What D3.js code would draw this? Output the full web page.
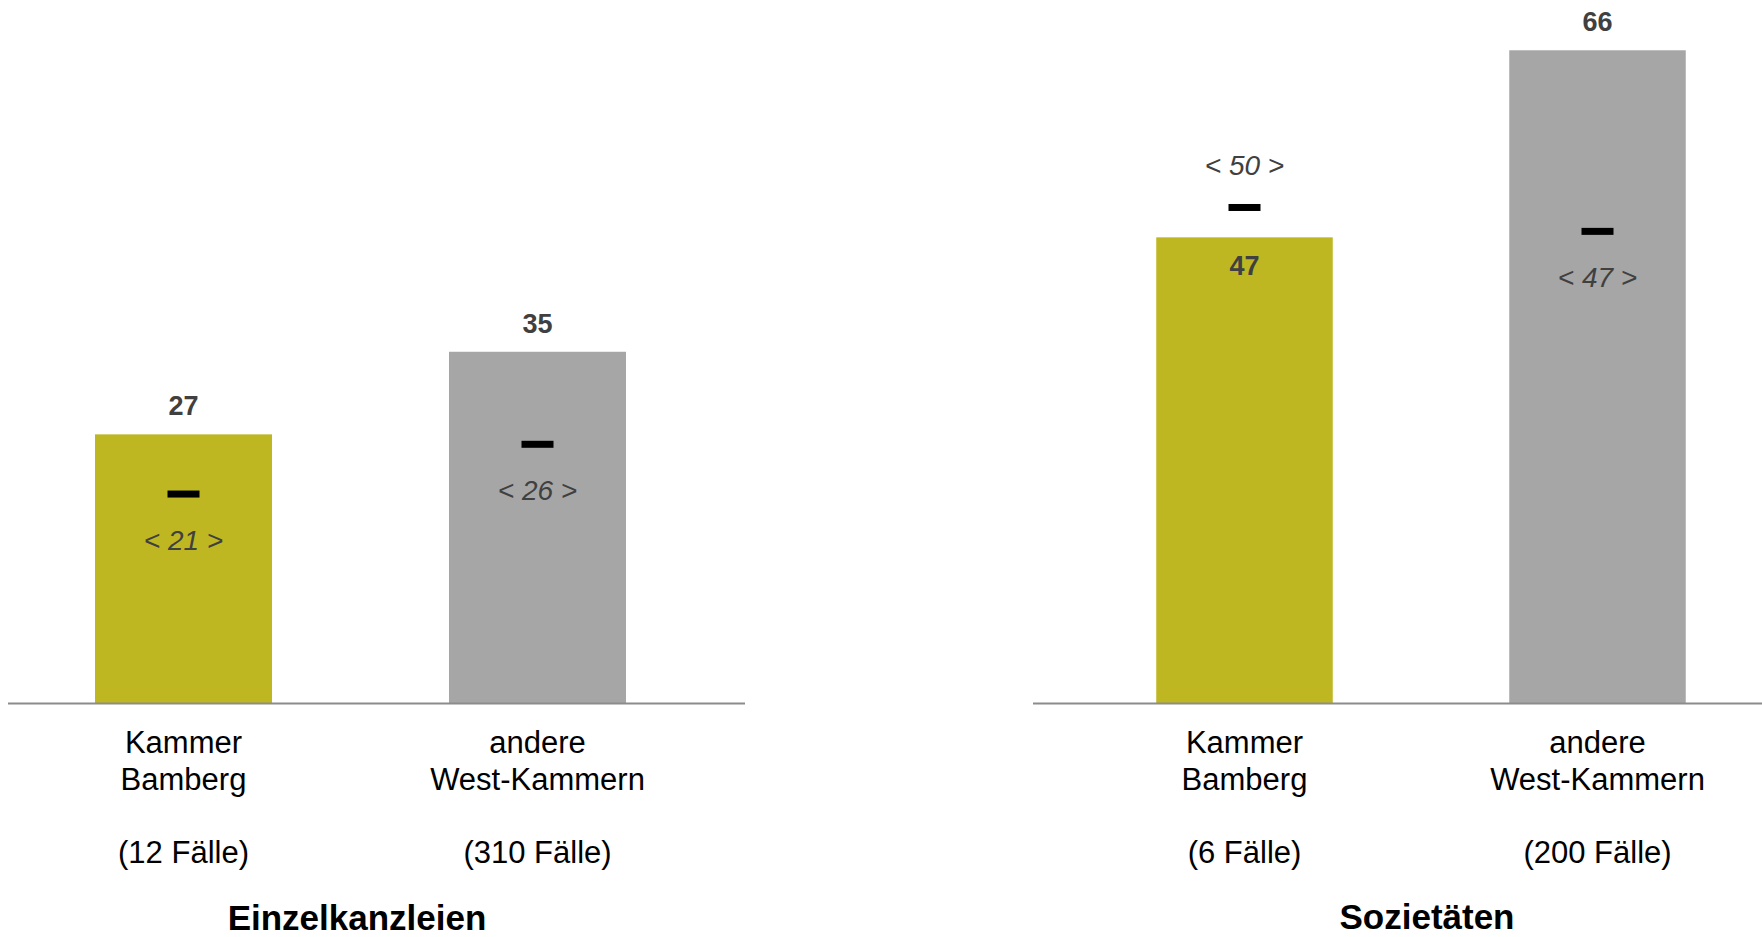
<!DOCTYPE html>
<html>
<head>
<meta charset="utf-8">
<script src="https://cdn.jsdelivr.net/npm/d3@7"></script>
<style>
  html, body { margin: 0; padding: 0; background: #fff; }
  svg { display: block; font-family: "Liberation Sans", Arial, sans-serif; }
</style>
</head>
<body>
<svg id="chart" width="1762" height="937"></svg>
<script>
// ---- data (labels show rounded values) ----
const panels = ["Einzelkanzleien", "Sozietäten"];
const categories = ["Kammer Bamberg", "andere West-Kammern"];
const categoryLines = [["Kammer", "Bamberg"], ["andere", "West-Kammern"]];
const cases = [["(12 Fälle)", "(310 Fälle)"], ["(6 Fälle)", "(200 Fälle)"]];
const barValues = [[27, 35.3], [46.8, 65.6]];
const meanValues = [[21, 26], [49.8, 47.4]];
const meanLabelAbove = [[false, false], [true, false]];
const valueLabelInside = [[false, false], [true, false]];
const colors = ["#BFB722", "#A6A6A6"];

// ---- layout ----
const svg = d3.select("#chart");
const baseline = 703;
const y = d3.scaleLinear().domain([0, 70]).range([baseline, baseline - 70 * 9.95]);

const panelLayout = [
  { range: [6.5, 714.5], axis: [8, 745], titleX: 357, titleY: 930 },
  { range: [1068, 1774], axis: [1033, 1762], titleX: 1427, titleY: 929 }
];

panels.forEach((pName, pi) => {
  const L = panelLayout[pi];
  const x = d3.scaleBand().domain(categories).range(L.range)
    .paddingInner(0.5).paddingOuter(0.25);
  const g = svg.append("g");

  const rows = categories.map((c, i) => ({
    cat: c, v: barValues[pi][i], m: meanValues[pi][i],
    above: meanLabelAbove[pi][i], inside: valueLabelInside[pi][i],
    lines: categoryLines[i], cases: cases[pi][i], color: colors[i]
  }));

  // bars
  g.selectAll("rect.bar").data(rows).join("rect")
    .attr("class", "bar")
    .attr("x", d => x(d.cat))
    .attr("width", x.bandwidth())
    .attr("y", d => y(d.v))
    .attr("height", d => y(0) - y(d.v))
    .attr("fill", d => d.color);

  // axis line
  g.append("line")
    .attr("x1", L.axis[0]).attr("x2", L.axis[1])
    .attr("y1", baseline + 0.5).attr("y2", baseline + 0.5)
    .attr("stroke", "#8C8C8C").attr("stroke-width", 2);

  // value labels
  g.selectAll("text.val").data(rows).join("text")
    .attr("class", "val")
    .attr("x", d => x(d.cat) + x.bandwidth() / 2)
    .attr("y", d => d.inside ? y(d.v) + 38 : y(d.v) - 19)
    .attr("text-anchor", "middle")
    .attr("font-size", 27).attr("font-weight", "bold")
    .attr("fill", "#404040")
    .text(d => Math.round(d.v));

  // mean markers
  g.selectAll("rect.mean").data(rows).join("rect")
    .attr("class", "mean")
    .attr("x", d => x(d.cat) + x.bandwidth() / 2 - 16)
    .attr("width", 32)
    .attr("y", d => y(d.m) - 3.5)
    .attr("height", 7)
    .attr("fill", "#000");

  // mean labels
  g.selectAll("text.mean").data(rows).join("text")
    .attr("class", "mean")
    .attr("x", d => x(d.cat) + x.bandwidth() / 2)
    .attr("y", d => d.above ? y(d.m) - 32 : y(d.m) + 56)
    .attr("text-anchor", "middle")
    .attr("font-size", 28).attr("font-style", "italic")
    .attr("fill", "#404040")
    .text(d => "< " + Math.round(d.m) + " >");

  // category labels
  rows.forEach(d => {
    const cx = x(d.cat) + x.bandwidth() / 2;
    d.lines.forEach((ln, li) => {
      g.append("text").attr("x", cx).attr("y", 753 + li * 37)
        .attr("text-anchor", "middle").attr("font-size", 31)
        .attr("fill", "#000").text(ln);
    });
    g.append("text").attr("x", cx).attr("y", 863)
      .attr("text-anchor", "middle").attr("font-size", 31)
      .attr("fill", "#000").text(d.cases);
  });

  // panel title
  g.append("text").attr("x", L.titleX).attr("y", L.titleY)
    .attr("text-anchor", "middle").attr("font-size", 35)
    .attr("font-weight", "bold").attr("fill", "#000").text(pName);
});
</script>
</body>
</html>
